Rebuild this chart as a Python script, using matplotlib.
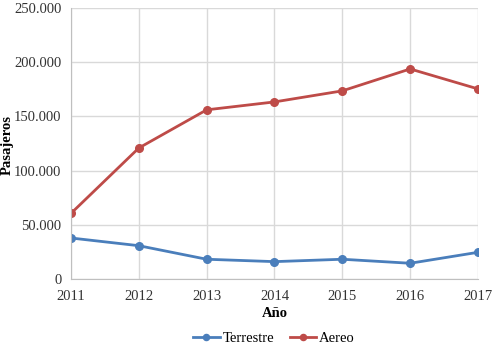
import matplotlib
matplotlib.use('Agg')
import matplotlib.pyplot as plt
from matplotlib.ticker import FuncFormatter

years = [2011, 2012, 2013, 2014, 2015, 2016, 2017]
terrestre = [37800, 30700, 18200, 16000, 18200, 14500, 24600]
aereo = [60500, 120800, 156000, 163300, 173500, 193700, 175300]

plt.rcParams['font.family'] = ['Liberation Serif', 'DejaVu Serif']

fig = plt.figure(figsize=(4.94, 3.44), dpi=100)
ax = fig.add_axes([0.1437, 0.189, 0.8239, 0.788])

ax.plot(years, terrestre, color='#4A7EBB', lw=2, marker='o', ms=5.5, label='Terrestre')
ax.plot(years, aereo, color='#BE4B48', lw=2, marker='o', ms=5.5, label='Aereo')

ax.set_xlim(2011, 2017)
ax.set_ylim(0, 250000)
ax.set_yticks(range(0, 250001, 50000))
ax.set_xticks(years)
ax.yaxis.set_major_formatter(FuncFormatter(lambda v, p: f'{int(v):,}'.replace(',', '.')))
ax.grid(True, color='#D9D9D9', lw=1)
ax.set_axisbelow(True)
for s in ['top', 'right']:
    ax.spines[s].set_visible(False)
for s in ['left', 'bottom']:
    ax.spines[s].set_color('#BFBFBF')
ax.tick_params(axis='y', length=0, labelsize=10.5, labelcolor='#333333', pad=7)
ax.tick_params(axis='x', length=0, labelsize=10.5, labelcolor='#333333', pad=8)

ax.set_xlabel('Año', fontsize=10.5, fontweight='bold', labelpad=3)
fig.text(0.015, 0.578, 'Pasajeros', fontsize=10.5, fontweight='bold', rotation=90,
         ha='center', va='center')

fig.legend(loc='lower center', bbox_to_anchor=(0.555, -0.042), ncol=2, frameon=False,
           fontsize=10.5, handlelength=1.8, handletextpad=0.2, columnspacing=1.1,
           markerscale=0.8)

fig.savefig('out.png', dpi=100)
